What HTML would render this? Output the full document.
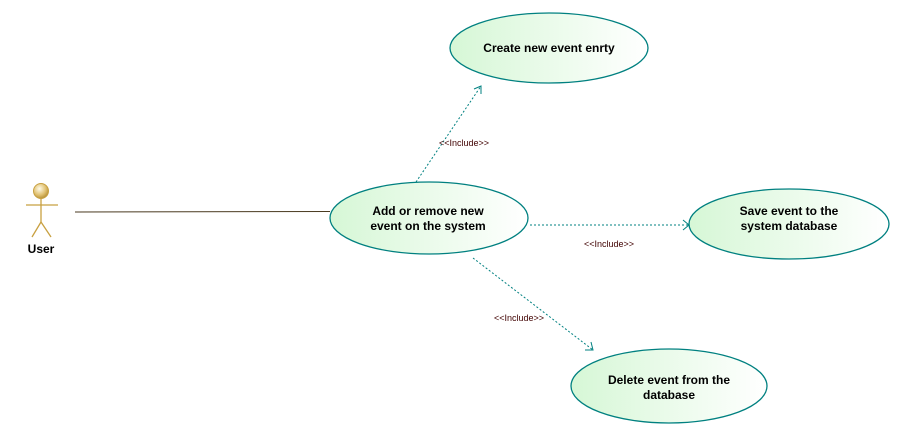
<!DOCTYPE html>
<html><head><meta charset="utf-8"><style>
html,body{margin:0;padding:0;background:#fff;}
svg text{font-family:"Liberation Sans",Arial,sans-serif;}
</style></head><body>
<svg width="900" height="435" viewBox="0 0 900 435" xmlns="http://www.w3.org/2000/svg">
<defs>
<linearGradient id="g" x1="0" y1="0" x2="1" y2="0">
<stop offset="0" stop-color="#d6f7d6"/><stop offset="1" stop-color="#ffffff"/>
</linearGradient>
<radialGradient id="h" cx="0.4" cy="0.35" r="0.7">
<stop offset="0" stop-color="#fffbe8"/><stop offset="0.6" stop-color="#e0c070"/><stop offset="1" stop-color="#b08a30"/>
</radialGradient>
</defs>
<!-- actor -->
<g stroke="#c8a040" stroke-width="1.3" fill="none">
<line x1="41" y1="198" x2="41" y2="222"/>
<line x1="26" y1="205" x2="58" y2="205"/>
<line x1="41" y1="222" x2="32" y2="237"/>
<line x1="41" y1="222" x2="51" y2="237"/>
</g>
<circle cx="41" cy="191" r="7.5" fill="url(#h)" stroke="#c8a040"/>
<text x="41" y="253" font-size="12" font-weight="bold" text-anchor="middle" fill="#000">User</text>
<line x1="75" y1="212" x2="330" y2="211.5" stroke="#4a3a20" stroke-width="1"/>
<!-- connectors -->
<g stroke="#008080" stroke-width="1" fill="none" stroke-dasharray="2,2">
<line x1="416" y1="182" x2="481" y2="86"/>
<line x1="530" y1="225" x2="689" y2="225"/>
<line x1="473" y1="258" x2="593" y2="350"/>
</g>
<g stroke="#008080" stroke-width="1" fill="none">
<polyline points="474,89 481,86 481,94"/>
<polyline points="683,220 689,225 683,230"/>
<polyline points="585,350 593,350 591,342"/>
</g>
<g font-size="9" fill="#400000">
<text x="439" y="146">&lt;&lt;Include&gt;&gt;</text>
<text x="584" y="247">&lt;&lt;Include&gt;&gt;</text>
<text x="494" y="321">&lt;&lt;Include&gt;&gt;</text>
</g>
<!-- use cases -->
<g fill="url(#g)" stroke="#008080" stroke-width="1.3">
<ellipse cx="549" cy="48" rx="99" ry="35"/>
<ellipse cx="429" cy="218" rx="99" ry="36"/>
<ellipse cx="789" cy="224" rx="100" ry="35"/>
<ellipse cx="669" cy="386" rx="98" ry="37"/>
</g>
<g font-size="12" font-weight="bold" fill="#000" text-anchor="middle">
<text x="549" y="52">Create new event enrty</text>
<text x="428" y="215">Add or remove new</text>
<text x="428" y="230">event on the system</text>
<text x="789" y="215">Save  event to the</text>
<text x="789" y="230">system database</text>
<text x="669" y="384">Delete event from the</text>
<text x="669" y="399">database</text>
</g>
</svg>
</body></html>
